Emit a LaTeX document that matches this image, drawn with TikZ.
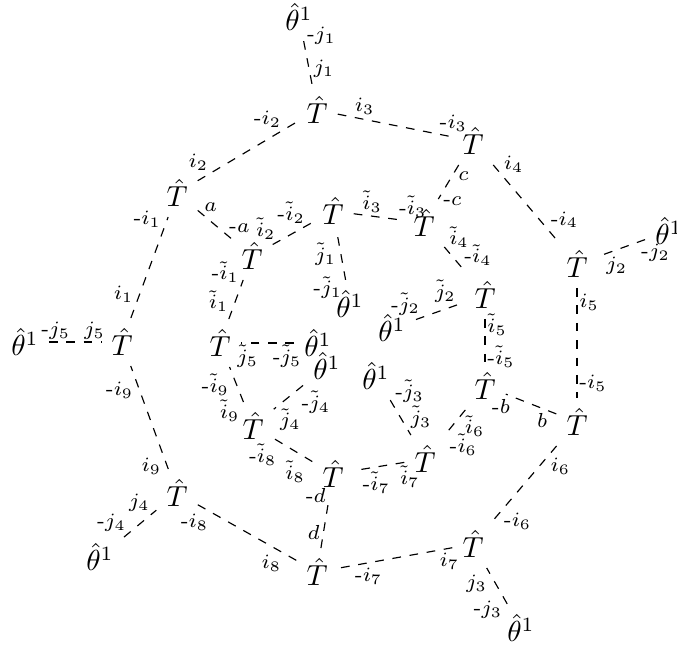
\documentclass[tikz,border=0pt]{standalone}
\begin{document}
\begin{tikzpicture}[x=0.345pt,y=-0.345pt,
  edge/.style={dashed},
  lab/.style={auto,font=\scriptsize,inner sep=0.6pt}]
\useasboundingbox (0,0) rectangle (677,649);
\newcommand\edgelink[4]{\draw[edge] (#1) -- node[lab,pos=.13]{#3} node[lab,pos=.87]{#4} (#2);}
% outer ring
\node (O1) at (317,110) {$\hat{T}$};
\node (O2) at (473,141) {$\hat{T}$};
\node (O3) at (577,264) {$\hat{T}$};
\node (O4) at (577,422) {$\hat{T}$};
\node (O5) at (473,544) {$\hat{T}$};
\node (O6) at (317,572) {$\hat{T}$};
\node (O7) at (177,493) {$\hat{T}$};
\node (O8) at (122,342) {$\hat{T}$};
\node (O9) at (177,193) {$\hat{T}$};
\node (th1) at (299,17) {$\hat{\theta}^1$};
\node (th2) at (669,231) {$\hat{\theta}^1$};
\node (th3) at (521,628) {$\hat{\theta}^1$};
\node (th4) at (100,557) {$\hat{\theta}^1$};
\node (th5) at (25,342) {$\hat{\theta}^1$};
% inner ring
\node (I1) at (252,256) {$\hat{T}$};
\node (I2) at (333,211) {$\hat{T}$};
\node (I3) at (424,223) {$\hat{T}$};
\node (I4) at (485,295) {$\hat{T}$};
\node (I5) at (485,386) {$\hat{T}$};
\node (I6) at (425,459) {$\hat{T}$};
\node (I7) at (333,474) {$\hat{T}$};
\node (I8) at (253,426) {$\hat{T}$};
\node (I9) at (220,343) {$\hat{T}$};
\node (tha) at (350,304) {$\hat{\theta}^1$};
\node (thb) at (392,328) {$\hat{\theta}^1$};
\node (thc) at (376,376) {$\hat{\theta}^1$};
\node (thd) at (327,366) {$\hat{\theta}^1$};
\node (the) at (318,343) {$\hat{\theta}^1$};
% outer edges
\edgelink{O1}{O2}{$i_3$}{-$i_3$}
\edgelink{O2}{O3}{$i_4$}{-$i_4$}
\edgelink{O3}{O4}{$i_5$}{-$i_5$}
\edgelink{O4}{O5}{$i_6$}{-$i_6$}
\edgelink{O5}{O6}{$i_7$}{-$i_7$}
\edgelink{O6}{O7}{$i_8$}{-$i_8$}
\edgelink{O7}{O8}{$i_9$}{-$i_9$}
\edgelink{O8}{O9}{$i_1$}{-$i_1$}
\edgelink{O9}{O1}{$i_2$}{-$i_2$}
\edgelink{th1}{O1}{-$j_1$}{$j_1$}
\edgelink{th2}{O3}{-$j_2$}{$j_2$}
\edgelink{th3}{O5}{-$j_3$}{$j_3$}
\edgelink{th4}{O7}{-$j_4$}{$j_4$}
\edgelink{th5}{O8}{-$j_5$}{$j_5$}
% cross edges
\edgelink{O9}{I1}{$a$}{-$a$}
\edgelink{O2}{I3}{$c$}{-$c$}
\edgelink{O4}{I5}{$b$}{-$b$}
\edgelink{O6}{I7}{$d$}{-$d$}
% inner edges
\edgelink{I1}{I2}{$\tilde{i}_2$}{-$\tilde{i}_2$}
\edgelink{I2}{I3}{$\tilde{i}_3$}{-$\tilde{i}_3$}
\edgelink{I3}{I4}{$\tilde{i}_4$}{-$\tilde{i}_4$}
\edgelink{I4}{I5}{$\tilde{i}_5$}{-$\tilde{i}_5$}
\edgelink{I5}{I6}{$\tilde{i}_6$}{-$\tilde{i}_6$}
\edgelink{I6}{I7}{$\tilde{i}_7$}{-$\tilde{i}_7$}
\edgelink{I7}{I8}{$\tilde{i}_8$}{-$\tilde{i}_8$}
\edgelink{I8}{I9}{$\tilde{i}_9$}{-$\tilde{i}_9$}
\edgelink{I9}{I1}{$\tilde{i}_1$}{-$\tilde{i}_1$}
\edgelink{tha}{I2}{-$\tilde{j}_1$}{$\tilde{j}_1$}
\edgelink{thb}{I4}{-$\tilde{j}_2$}{$\tilde{j}_2$}
\edgelink{thc}{I6}{-$\tilde{j}_3$}{$\tilde{j}_3$}
\edgelink{thd}{I8}{-$\tilde{j}_4$}{$\tilde{j}_4$}
\edgelink{the}{I9}{-$\tilde{j}_5$}{$\tilde{j}_5$}
\end{tikzpicture}
\end{document}
